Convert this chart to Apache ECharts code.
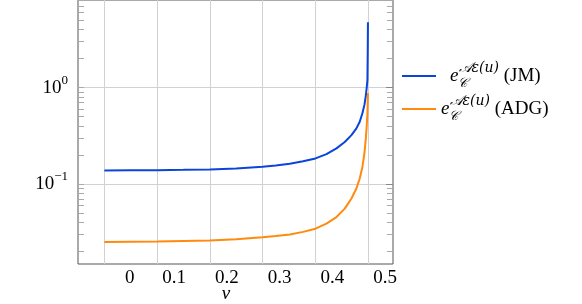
<!DOCTYPE html>
<html><head><meta charset="utf-8">
<script src="https://cdn.jsdelivr.net/npm/echarts@6/dist/echarts.min.js"></script>
<style>html,body{margin:0;padding:0;background:#fff}#c{width:582px;height:304px}</style>
</head><body><div id="c"></div>
<script>
// Data
const nu = [0, 0.05, 0.1, 0.15, 0.2, 0.25, 0.3, 0.325, 0.3517, 0.3769, 0.4004, 0.4212, 0.4402, 0.4559, 0.4686, 0.478, 0.4843, 0.4894, 0.4932, 0.4956, 0.4975, 0.4989, 0.4995, 0.4999];
const jmValues  = [0.138, 0.1385, 0.139, 0.140, 0.1413, 0.1445, 0.1505, 0.1555, 0.162, 0.1715, 0.184, 0.204, 0.234, 0.272, 0.321, 0.377, 0.442, 0.541, 0.661, 0.806, 0.987, 1.20, 2.4, 4.75];
const adgValues = [0.0249, 0.0251, 0.0253, 0.0256, 0.0259, 0.0267, 0.0280, 0.0288, 0.0299, 0.0318, 0.0343, 0.0387, 0.0453, 0.0554, 0.0705, 0.0896, 0.114, 0.150, 0.207, 0.285, 0.393, 0.541, 0.745, 0.875];
const xTicks = [0, 0.1, 0.2, 0.3, 0.4, 0.5];
const yMajor = [0.1, 1];
const yMinor = [0.02,0.03,0.04,0.05,0.06,0.07,0.08,0.09,0.2,0.3,0.4,0.5,0.6,0.7,0.8,0.9,2,3,4,5,6,7,8];
const seriesNames = ['JM', 'ADG'];

const serif = 'Liberation Serif';
const chart = echarts.init(document.getElementById('c'), null, {renderer: 'canvas'});
const yMin = 0.01476, yMax = 8.1, xMin = -0.05, xMax = 0.5474;
const yBase = {type: 'log', logBase: 10, min: yMin, max: yMax};
const gridRect = {left: 78, right: 189, top: 0, bottom: 40, outerBoundsMode: 'none', containLabel: false};
const legendRich = {
  pad: {width: 9, fontSize: 19},
  e: {fontFamily: serif, fontStyle: 'italic', fontSize: 19, color: '#000'},
  sub: {fontFamily: 'DejaVu Serif', fontStyle: 'italic', fontSize: 13, color: '#000', padding: [15, 0, 0, 0], width: 0.1},
  sup: {fontFamily: 'DejaVu Serif', fontStyle: 'italic', fontSize: 14, color: '#000', padding: [0, 0, 16, 0]},
  t: {fontFamily: serif, fontSize: 19, color: '#000'}
};
chart.setOption({
  animation: false,
  grid: [
    Object.assign({show: true, borderColor: '#555', borderWidth: 1, backgroundColor: 'transparent'}, gridRect),
    Object.assign({show: false}, gridRect)
  ],
  legend: {
    orient: 'vertical', left: 397, top: 56, itemWidth: 34, itemHeight: 14, itemGap: 4,
    icon: 'path://M0,6 L34,6 L34,8 L0,8 Z',
    data: seriesNames,
    formatter: function (n) {
      return (n === 'JM' ? '{pad| }' : '') + '{e|e}{sub|𝒞}{sup|𝒜ε(u)}{t| (' + n + ')}';
    },
    textStyle: {rich: legendRich, padding: [0, 0, 0, 0]}
  },
  xAxis: [{
    type: 'value', gridIndex: 0, min: xMin, max: xMax, position: 'bottom',
    axisLine: {show: false, onZero: false},
    axisTick: {show: false, customValues: xTicks},
    splitLine: {show: true, lineStyle: {color: '#d2d2d2', width: 1}},
    axisLabel: {
      customValues: xTicks, margin: 5,
      formatter: function (v) { return v === 0 ? '{z|0}' : '{n|' + v + '}'; },
      rich: {
        z: {fontFamily: serif, fontSize: 19, color: '#000', padding: [0, 0, 0, 51]},
        n: {fontFamily: serif, fontSize: 19, color: '#000', padding: [0, 0, 0, 34]}
      }
    },
    name: 'ν', nameLocation: 'middle', nameGap: 20, nameMoveOverlap: false,
    nameTextStyle: {fontFamily: serif, fontStyle: 'italic', fontSize: 19, color: '#000', padding: [0, 19, 0, 0]}
  }, {
    type: 'value', gridIndex: 1, min: xMin, max: xMax, show: false
  }],
  yAxis: [
    Object.assign({}, yBase, {
      gridIndex: 0, position: 'left',
      axisLine: {show: false, onZero: false},
      axisTick: {show: true, inside: true, length: 6, customValues: yMinor.concat(yMajor), lineStyle: {color: '#aaa'}},
      splitLine: {show: false},
      axisLabel: {
        customValues: yMajor, margin: 10,
        formatter: function (v) { return v >= 1 ? '{b|10}{s|0}' : '{b|10}{s|−1}'; },
        rich: {
          b: {fontFamily: serif, fontSize: 19, color: '#000'},
          s: {fontFamily: serif, fontSize: 13, color: '#000', padding: [0, 0, 14, 0]}
        }
      }
    }),
    Object.assign({}, yBase, {
      gridIndex: 0, position: 'right',
      axisLine: {show: false, onZero: false}, axisLabel: {show: false},
      axisTick: {show: true, inside: true, length: 7, customValues: yMajor, lineStyle: {color: '#888'}},
      splitLine: {show: true, lineStyle: {color: '#d2d2d2', width: 1}}
    }),
    Object.assign({}, yBase, {
      gridIndex: 1, position: 'right',
      axisLine: {show: false, onZero: false}, axisLabel: {show: false}, splitLine: {show: false},
      axisTick: {show: true, inside: true, length: 6, customValues: yMinor, lineStyle: {color: '#aaa'}}
    })
  ],
  series: [
    {name: 'JM', type: 'line', xAxisIndex: 0, yAxisIndex: 0, showSymbol: false, symbol: 'none', clip: true,
     lineStyle: {color: '#0b44d8', width: 2}, itemStyle: {color: '#0b44d8'},
     data: nu.map((x, i) => [x, jmValues[i]])},
    {name: 'ADG', type: 'line', xAxisIndex: 0, yAxisIndex: 0, showSymbol: false, symbol: 'none', clip: true,
     lineStyle: {color: '#ff8a0d', width: 2}, itemStyle: {color: '#ff8a0d'},
     data: nu.map((x, i) => [x, adgValues[i]])}
  ]
});
</script></body></html>
